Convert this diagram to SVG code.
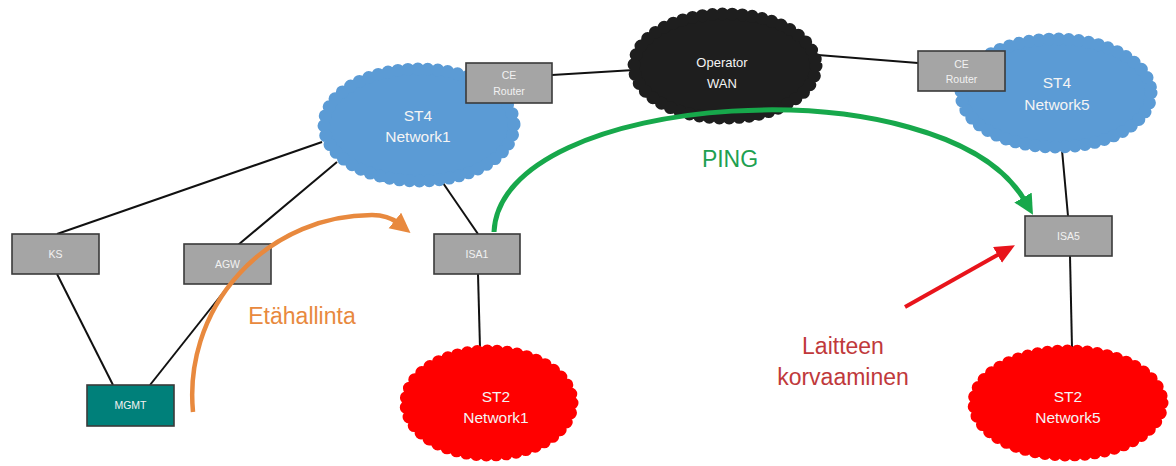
<svg xmlns="http://www.w3.org/2000/svg" width="1176" height="466" viewBox="0 0 1176 466">
<style>
.bg{fill:#ffffff}
.link{stroke:#111;stroke-width:2;fill:none}
.box{fill:#a5a5a5;stroke:#3a3a3a;stroke-width:1.6}
.mgmt{fill:#00807a;stroke:#3a3a3a;stroke-width:1.6}
.bt{font-family:"Liberation Sans",Arial,sans-serif;font-size:10.5px;fill:#f2f2f2;text-anchor:middle}
.ct{font-family:"Liberation Sans",Arial,sans-serif;font-size:15.5px;fill:#f4f4f4;text-anchor:middle}
.blue{fill:#5b9bd5;stroke:#5b9bd5}
.black{fill:#1e1e1e;stroke:#1e1e1e}
.red{fill:#ff0000;stroke:#ff0000}
.cloud{stroke-width:13;stroke-dasharray:0 10;stroke-linecap:round}
.big{font-family:"Liberation Sans",Arial,sans-serif;font-size:23px;text-anchor:middle}
</style>
<defs>
<marker id="ag" markerUnits="userSpaceOnUse" markerWidth="22" markerHeight="22" refX="4" refY="10" orient="auto"><path d="M0,0 L20,10 L0,20 z" fill="#17a84b"/></marker>
<marker id="ao" markerUnits="userSpaceOnUse" markerWidth="22" markerHeight="22" refX="4" refY="10" orient="auto"><path d="M0,0 L20,10 L0,20 z" fill="#e8893e"/></marker>
<marker id="ar" markerUnits="userSpaceOnUse" markerWidth="22" markerHeight="22" refX="4" refY="9" orient="auto"><path d="M0,0 L20,9 L0,18 z" fill="#e8141b"/></marker>
</defs>
<rect class="bg" x="0" y="0" width="1176" height="466"/>
<g id="connectors">
<line class="link" x1="57" y1="234" x2="322" y2="142"/>
<line class="link" x1="238" y1="245" x2="337" y2="162"/>
<line class="link" x1="57" y1="274" x2="113" y2="385"/>
<line class="link" x1="230" y1="284" x2="150" y2="385"/>
<line class="link" x1="443" y1="183" x2="478" y2="234"/>
<line class="link" x1="478" y1="274" x2="480" y2="348"/>
<line class="link" x1="552" y1="75" x2="634" y2="70"/>
<line class="link" x1="818" y1="55" x2="918" y2="63"/>
<line class="link" x1="1062" y1="150" x2="1068" y2="216"/>
<line class="link" x1="1070" y1="256" x2="1072" y2="348"/>
</g>
<g id="st4-network1">
<ellipse class="blue cloud" cx="419" cy="125" rx="95" ry="56"/>
<text class="ct" x="418" y="121">ST4</text>
<text class="ct" x="418" y="142">Network1</text>
</g>
<g id="operator-wan">
<ellipse class="black cloud" cx="725" cy="66" rx="91" ry="52"/>
<text class="ct" x="722" y="67" style="font-size:13px">Operator</text>
<text class="ct" x="722" y="88" style="font-size:13px">WAN</text>
</g>
<g id="st4-network5">
<ellipse class="blue cloud" cx="1056" cy="93" rx="95" ry="54"/>
<text class="ct" x="1057" y="88">ST4</text>
<text class="ct" x="1057" y="110">Network5</text>
</g>
<g id="st2-network1">
<ellipse class="red cloud" cx="489" cy="403" rx="83" ry="52"/>
<text class="ct" x="496" y="402">ST2</text>
<text class="ct" x="496" y="423">Network1</text>
</g>
<g id="st2-network5">
<ellipse class="red cloud" cx="1068" cy="403" rx="94" ry="52"/>
<text class="ct" x="1068" y="402">ST2</text>
<text class="ct" x="1068" y="423">Network5</text>
</g>
<g id="ce-router-1">
<rect class="box" x="466" y="63" width="86" height="40"/>
<text class="bt" x="509" y="79">CE</text>
<text class="bt" x="509" y="95">Router</text>
</g>
<g id="ce-router-5">
<rect class="box" x="918" y="51" width="87" height="40"/>
<text class="bt" x="961.5" y="68">CE</text>
<text class="bt" x="961.5" y="83">Router</text>
</g>
<g id="ks">
<rect class="box" x="12" y="234" width="87" height="40"/>
<text class="bt" x="55.5" y="258">KS</text>
</g>
<g id="agw">
<rect class="box" x="184" y="244" width="87" height="40"/>
<text class="bt" x="227.5" y="268">AGW</text>
</g>
<g id="mgmt">
<rect class="mgmt" x="87" y="385" width="87" height="41"/>
<text class="bt" x="130.5" y="409">MGMT</text>
</g>
<g id="isa1">
<rect class="box" x="434" y="234" width="86" height="40"/>
<text class="bt" x="477" y="258">ISA1</text>
</g>
<g id="isa5">
<rect class="box" x="1025" y="216" width="87" height="40"/>
<text class="bt" x="1068.5" y="240">ISA5</text>
</g>
<g id="annotations">
<path d="M494 232 C500 90, 945 62, 1025 201" fill="none" stroke="#17a84b" stroke-width="5" marker-end="url(#ag)"/>
<text class="big" x="730" y="167" fill="#20a050">PING</text>
<path d="M193 412 A180 180 0 0 1 372 215 Q388 215, 398 223" fill="none" stroke="#e8893e" stroke-width="4.5" marker-end="url(#ao)"/>
<text class="big" x="302" y="324" fill="#e8893e">Etähallinta</text>
<path d="M905 307 L1001 253" fill="none" stroke="#e8141b" stroke-width="4" marker-end="url(#ar)"/>
<text class="big" x="843" y="354" fill="#c0393b">Laitteen</text>
<text class="big" x="843" y="385" fill="#c0393b">korvaaminen</text>
</g>
</svg>
